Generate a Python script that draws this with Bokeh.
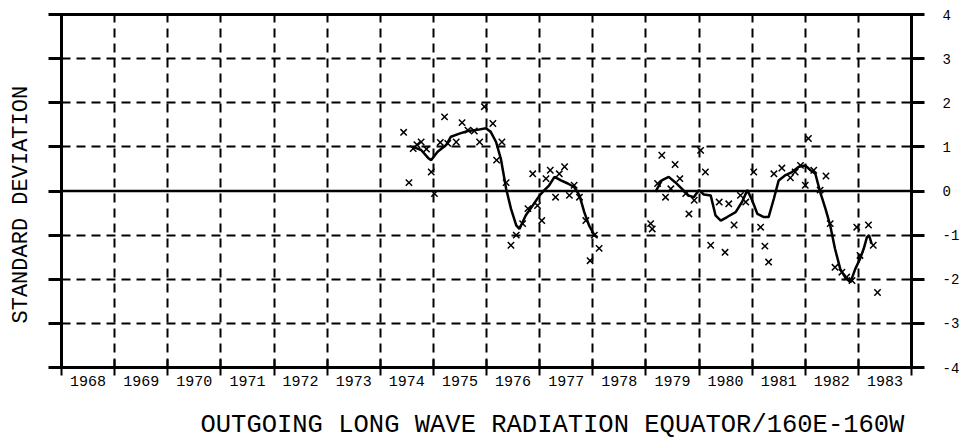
from bokeh.plotting import figure
from bokeh.models import FixedTicker, LinearAxis, Span, Title, Range1d
from bokeh.embed import file_html
from bokeh.resources import INLINE

nan = float("nan")

# ---- data ----
years = list(range(1968, 1984))
year_labels = [str(y) for y in years]
y_ticks = [-4, -3, -2, -1, 0, 1, 2, 3, 4]
y_tick_labels = ["-4", "-3", "-2", "-1", "0", "1", "2", "3", "4"]

# monthly values (x markers)
obs_t = [1974.44, 1974.54, 1974.62, 1974.69, 1974.77, 1974.87, 1974.96, 1975.02,
         1975.13, 1975.21, 1975.27, 1975.43, 1975.54, 1975.65, 1975.77, 1975.87,
         1975.96, 1976.12, 1976.19, 1976.29, 1976.37, 1976.46, 1976.56, 1976.68,
         1976.78, 1976.87, 1976.96, 1977.04, 1977.12, 1977.20, 1977.30, 1977.37,
         1977.47, 1977.56, 1977.65, 1977.75, 1977.87, 1977.95, 1978.03, 1978.12,
         1979.09, 1979.12, 1979.22, 1979.30, 1979.37, 1979.47, 1979.55, 1979.64,
         1979.75, 1979.81, 1979.91, 1980.03, 1980.12, 1980.22, 1980.38, 1980.49,
         1980.56, 1980.66, 1980.78, 1980.88, 1981.03, 1981.16, 1981.24, 1981.31,
         1981.41, 1981.56, 1981.72, 1981.81, 1981.91, 1982.00, 1982.06, 1982.16,
         1982.28, 1982.39, 1982.47, 1982.56, 1982.69, 1982.78, 1982.88, 1982.97,
         1983.03, 1983.19, 1983.28, 1983.36]
obs_v = [1.33, 0.19, 0.96, 1.05, 1.11, 0.95, 0.43, -0.06,
         1.10, 1.68, 1.08, 1.11, 1.55, 1.38, 1.36, 1.11,
         1.91, 1.53, 0.70, 1.11, 0.19, -1.23, -1.00, -0.74,
         -0.40, 0.39, -0.33, -0.67, 0.28, 0.47, -0.14, 0.39,
         0.55, -0.10, 0.13, -0.14, -0.67, -1.58, -1.00, -1.30,
         -0.74, -0.86, 0.17, 0.81, -0.14, 0.05, 0.60, 0.28,
         -0.06, -0.52, -0.21, 0.92, 0.43, -1.23, -0.25, -1.39,
         -0.29, -0.77, -0.10, -0.25, 0.43, -0.82, -1.25, -1.61,
         0.39, 0.52, 0.30, 0.43, 0.58, 0.13, 1.19, 0.47,
         0.02, 0.34, -0.74, -1.73, -1.84, -1.95, -2.03, -0.82,
         -1.46, -0.77, -1.23, -2.30]

# smoothed curve (gap during 1978)
smooth_t = [1974.62, 1974.77, 1974.90, 1974.96, 1975.08, 1975.24, 1975.33, 1975.49,
            1975.65, 1975.80, 1975.99, 1976.08, 1976.18, 1976.27, 1976.37, 1976.46,
            1976.56, 1976.62, 1976.74, 1976.87, 1977.00, 1977.09, 1977.18, 1977.28,
            1977.40, 1977.53, 1977.65, 1977.75, 1977.84, 1977.93, 1978.03, 1978.09,
            nan,
            1979.18, 1979.30, 1979.43, 1979.55, 1979.68, 1979.80, 1979.90, 1980.00,
            1980.09, 1980.22, 1980.31, 1980.41, 1980.53, 1980.69, 1980.81, 1980.91,
            1981.00, 1981.10, 1981.22, 1981.31, 1981.41, 1981.50, 1981.63, 1981.75,
            1981.88, 1982.00, 1982.10, 1982.19, 1982.28, 1982.38, 1982.47, 1982.56,
            1982.66, 1982.75, 1982.85, 1982.94, 1983.03, 1983.10, 1983.16, 1983.20,
            1983.25]
smooth_v = [1.00, 0.93, 0.75, 0.70, 0.89, 1.04, 1.23, 1.30,
            1.36, 1.38, 1.42, 1.34, 1.11, 0.73, 0.05, -0.40,
            -0.78, -0.86, -0.55, -0.33, -0.10, 0.02, 0.13, 0.32,
            0.24, 0.17, 0.09, -0.10, -0.48, -0.78, -1.00, -1.05,
            nan,
            -0.02, 0.24, 0.32, 0.20, 0.05, -0.10, -0.14, 0.02,
            -0.08, -0.10, -0.55, -0.67, -0.59, -0.48, -0.25, 0.02,
            -0.21, -0.52, -0.59, -0.59, -0.17, 0.24, 0.36, 0.43,
            0.55, 0.58, 0.47, 0.39, -0.02, -0.40, -0.78, -1.31,
            -1.77, -1.95, -2.07, -1.77, -1.54, -1.31, -1.05, -1.00,
            -1.20]

title_text = "OUTGOING LONG WAVE RADIATION EQUATOR/160E-160W"
ylabel_text = "STANDARD DEVIATION"

MONO = "Liberation Mono"
W, H = 962, 442

p = figure(width=W, height=H,
           x_range=Range1d(years[0], years[-1] + 1),
           y_range=Range1d(y_ticks[0], y_ticks[-1]),
           output_backend="svg", toolbar_location=None,
           min_border_left=61, min_border_right=W - 913,
           min_border_top=14, min_border_bottom=H - 367)
p.background_fill_color = "white"
p.border_fill_color = "white"
p.outline_line_color = "black"
p.outline_line_width = 3

# grid
p.xgrid.ticker = FixedTicker(ticks=years[1:])
p.ygrid.ticker = FixedTicker(ticks=[t for t in y_ticks[1:-1] if t != 0])
for g in (p.xgrid, p.ygrid):
    g.grid_line_color = "black"
    g.grid_line_width = 2
    g.grid_line_dash = "9 6"

p.add_layout(Span(location=0, dimension="width", line_color="black", line_width=2.5))

# bottom axis: labels centred on each year, ticks at year boundaries
xa = p.xaxis[0]
xa.ticker = FixedTicker(ticks=[y + 0.5 for y in years],
                        minor_ticks=years + [years[-1] + 1])
xa.major_label_overrides = {y + 0.5: lab for y, lab in zip(years, year_labels)}
xa.major_tick_line_color = None
xa.major_tick_out = 3
xa.major_tick_in = 0
xa.minor_tick_line_color = "black"
xa.minor_tick_line_width = 2
xa.minor_tick_in = 8
xa.minor_tick_out = 8
xa.axis_line_width = 3
xa.major_label_standoff = 0
xa.major_label_text_font = MONO
xa.major_label_text_font_size = "15px"
xa.major_label_text_color = "black"

# left axis: ticks only (minor ticks, no labels)
ya = p.yaxis[0]
ya.ticker = FixedTicker(ticks=[], minor_ticks=y_ticks)
ya.major_tick_line_color = None
ya.major_tick_out = 0
ya.major_tick_in = 0
ya.minor_tick_out = 13
ya.minor_tick_in = 0
ya.minor_tick_line_width = 3
ya.minor_tick_line_color = "black"
ya.axis_line_width = 3
ya.major_label_standoff = 0


def spacer_axis(size, at):
    """An invisible axis used only to reserve room in a side panel."""
    s = LinearAxis(ticker=FixedTicker(ticks=[], minor_ticks=[at]))
    s.axis_line_color = None
    s.major_tick_line_color = None
    s.minor_tick_line_color = None
    s.major_tick_out = 0
    s.major_tick_in = 0
    s.minor_tick_out = size
    s.minor_tick_in = 0
    s.major_label_standoff = 0
    return s


p.add_layout(spacer_axis(15, 0), "left")
yt = Title(text=ylabel_text, align="left", offset=44,
           text_font=MONO, text_font_size="22px", text_font_style="normal",
           text_color="black", standoff=0)
p.add_layout(yt, "left")

# right axis with labels
ra = LinearAxis(ticker=FixedTicker(ticks=y_ticks))
ra.major_label_overrides = {t: lab for t, lab in zip(y_ticks, y_tick_labels)}
ra.major_tick_out = 13
ra.major_tick_in = 0
ra.major_tick_line_width = 3
ra.minor_tick_line_color = None
ra.axis_line_width = 3
ra.major_label_standoff = 18
ra.major_label_text_font = MONO
ra.major_label_text_font_size = "14px"
ra.major_label_text_color = "black"
p.add_layout(ra, "right")

# bottom title, pushed down by a spacer
p.add_layout(spacer_axis(26, 1976), "below")
t = Title(text=title_text, align="left", offset=139,
          text_font=MONO, text_font_size="25.5px", text_font_style="normal",
          text_color="black", standoff=-12)
p.add_layout(t, "below")

# data
p.line(smooth_t, smooth_v, line_color="black", line_width=2.5)
p.scatter(obs_t, obs_v, marker="x", size=9, line_color="black", line_width=1.5)

open("out.html", "w").write(file_html(p, INLINE))
